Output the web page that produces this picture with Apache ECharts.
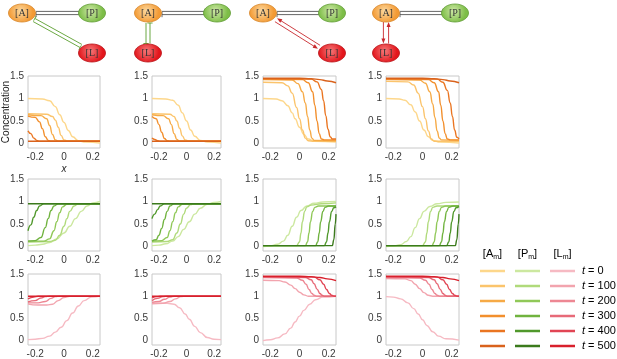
<!DOCTYPE html>
<html>
<head>
<meta charset="utf-8">
<script src="https://cdn.jsdelivr.net/npm/echarts@6/dist/echarts.min.js"></script>
<style>
html,body{margin:0;padding:0;background:#fff}
#main{width:617px;height:359px}
</style>
</head>
<body>
<div id="main"></div>
<script>
// time points (one curve per time in every panel)
var times = ['0', '100', '200', '300', '400', '500'];
var xTicks = [-0.2, 0, 0.2];
var yTicks = [0, 0.5, 1, 1.5];

// [A_m] profiles, one array per column, curves t=0..500
var A_col1 = [
  [[-0.25,1.0],[-0.15,0.99],[-0.1,0.95],[-0.06,0.82],[-0.03,0.64],[0,0.47],[0.03,0.29],[0.06,0.15],[0.1,0.06],[0.15,0.03],[0.25,0.01]],
  [[-0.25,0.66],[-0.12,0.65],[-0.08,0.6],[-0.06,0.52],[-0.04,0.36],[-0.02,0.18],[0,0.08],[0.03,0.05],[0.25,0.05]],
  [[-0.25,0.64],[-0.16,0.62],[-0.12,0.55],[-0.1,0.4],[-0.08,0.2],[-0.06,0.08],[-0.04,0.05],[0.25,0.05]],
  [[-0.25,0.61],[-0.2,0.58],[-0.17,0.48],[-0.15,0.33],[-0.13,0.15],[-0.11,0.07],[-0.09,0.05],[0.25,0.05]],
  [[-0.25,0.28],[-0.23,0.22],[-0.21,0.12],[-0.19,0.07],[-0.17,0.05],[0.25,0.05]],
  [[-0.25,0.05],[0.25,0.05]]
];
var A_col2 = [
  [[-0.25,1.0],[-0.15,0.99],[-0.1,0.96],[-0.06,0.85],[-0.03,0.68],[0,0.5],[0.03,0.3],[0.06,0.16],[0.1,0.07],[0.15,0.03],[0.25,0.01]],
  [[-0.25,0.66],[-0.12,0.65],[-0.09,0.6],[-0.07,0.5],[-0.05,0.34],[-0.03,0.17],[-0.01,0.08],[0.02,0.05],[0.25,0.05]],
  [[-0.25,0.64],[-0.17,0.62],[-0.13,0.55],[-0.11,0.42],[-0.09,0.22],[-0.07,0.09],[-0.05,0.05],[0.25,0.05]],
  [[-0.25,0.6],[-0.22,0.55],[-0.2,0.42],[-0.18,0.25],[-0.16,0.11],[-0.14,0.06],[-0.12,0.05],[0.25,0.05]],
  [[-0.25,0.12],[-0.23,0.09],[-0.21,0.06],[-0.19,0.05],[0.25,0.05]],
  [[-0.25,0.05],[0.25,0.05]]
];
var A_col3 = [
  [[-0.25,1.0],[-0.16,0.99],[-0.12,0.95],[-0.08,0.84],[-0.05,0.68],[-0.03,0.55],[0,0.36],[0.03,0.2],[0.06,0.1],[0.1,0.05],[0.25,0.03]],
  [[-0.25,1.36],[-0.12,1.35],[-0.08,1.28],[-0.05,1.12],[-0.02,0.8],[0,0.55],[0.02,0.3],[0.04,0.12],[0.06,0.06],[0.1,0.05],[0.25,0.05]],
  [[-0.25,1.42],[-0.05,1.41],[-0.01,1.33],[0.02,1.15],[0.04,0.9],[0.055,0.6],[0.07,0.3],[0.085,0.12],[0.1,0.07],[0.25,0.06]],
  [[-0.25,1.43],[0.02,1.42],[0.06,1.35],[0.09,1.15],[0.105,0.85],[0.12,0.5],[0.135,0.22],[0.15,0.1],[0.17,0.08],[0.25,0.08]],
  [[-0.25,1.44],[0.08,1.43],[0.12,1.37],[0.15,1.2],[0.165,0.95],[0.18,0.62],[0.195,0.32],[0.21,0.15],[0.225,0.1],[0.25,0.1]],
  [[-0.25,1.45],[0,1.45],[0.08,1.44],[0.14,1.42],[0.19,1.39],[0.25,1.35]]
];
var A_col4 = [
  [[-0.25,1.0],[-0.16,0.99],[-0.12,0.96],[-0.08,0.86],[-0.05,0.7],[-0.02,0.5],[0.01,0.3],[0.04,0.15],[0.07,0.07],[0.12,0.03],[0.25,0.01]],
  [[-0.25,1.38],[-0.1,1.37],[-0.06,1.3],[-0.03,1.12],[0,0.82],[0.02,0.55],[0.04,0.28],[0.06,0.1],[0.08,0.05],[0.25,0.05]],
  [[-0.25,1.42],[-0.02,1.41],[0.02,1.34],[0.05,1.15],[0.07,0.88],[0.085,0.58],[0.1,0.28],[0.115,0.12],[0.13,0.08],[0.25,0.07]],
  [[-0.25,1.43],[0.04,1.42],[0.08,1.35],[0.11,1.15],[0.125,0.85],[0.14,0.5],[0.155,0.22],[0.17,0.1],[0.19,0.08],[0.25,0.08]],
  [[-0.25,1.44],[0.1,1.43],[0.14,1.36],[0.17,1.18],[0.19,0.9],[0.205,0.6],[0.22,0.3],[0.235,0.14],[0.25,0.1]],
  [[-0.25,1.45],[0,1.45],[0.08,1.44],[0.14,1.42],[0.19,1.39],[0.25,1.35]]
];

// [P_m] profiles
var P_col1 = [
  [[-0.25,0.02],[-0.2,0.03],[-0.15,0.05],[-0.1,0.09],[-0.05,0.17],[0,0.3],[0.04,0.45],[0.08,0.62],[0.12,0.78],[0.16,0.9],[0.2,0.97],[0.25,1.0]],
  [[-0.25,0.1],[-0.1,0.11],[-0.06,0.14],[-0.03,0.25],[0,0.45],[0.02,0.62],[0.04,0.78],[0.07,0.9],[0.1,0.95],[0.25,0.95]],
  [[-0.25,0.12],[-0.14,0.12],[-0.1,0.17],[-0.07,0.35],[-0.05,0.55],[-0.03,0.75],[-0.01,0.88],[0.02,0.94],[0.05,0.95],[0.25,0.95]],
  [[-0.25,0.12],[-0.2,0.13],[-0.16,0.2],[-0.13,0.42],[-0.11,0.62],[-0.09,0.8],[-0.07,0.9],[-0.04,0.95],[0.25,0.95]],
  [[-0.25,0.35],[-0.23,0.48],[-0.21,0.65],[-0.19,0.8],[-0.17,0.9],[-0.14,0.95],[0.25,0.95]],
  [[-0.25,0.95],[0.25,0.95]]
];
var P_col2 = [
  [[-0.25,0.02],[-0.2,0.03],[-0.15,0.06],[-0.1,0.12],[-0.06,0.22],[-0.02,0.38],[0.02,0.55],[0.06,0.72],[0.1,0.85],[0.15,0.94],[0.2,0.98],[0.25,1.0]],
  [[-0.25,0.1],[-0.14,0.11],[-0.1,0.15],[-0.07,0.3],[-0.045,0.5],[-0.02,0.72],[0,0.85],[0.03,0.93],[0.06,0.95],[0.25,0.95]],
  [[-0.25,0.12],[-0.18,0.13],[-0.14,0.2],[-0.12,0.35],[-0.1,0.55],[-0.08,0.75],[-0.06,0.88],[-0.03,0.94],[0.25,0.95]],
  [[-0.25,0.12],[-0.22,0.15],[-0.2,0.25],[-0.18,0.4],[-0.16,0.6],[-0.14,0.78],[-0.12,0.9],[-0.09,0.95],[0.25,0.95]],
  [[-0.25,0.62],[-0.23,0.72],[-0.21,0.82],[-0.19,0.9],[-0.16,0.95],[0.25,0.95]],
  [[-0.25,0.95],[0.25,0.95]]
];
var P_col3 = [
  [[-0.25,0.0],[-0.2,0.01],[-0.15,0.05],[-0.11,0.12],[-0.08,0.25],[-0.05,0.45],[-0.02,0.65],[0.01,0.8],[0.05,0.9],[0.1,0.96],[0.16,0.99],[0.25,1.0]],
  [[-0.25,0.02],[-0.02,0.02],[0,0.1],[0.01,0.3],[0.02,0.55],[0.035,0.78],[0.05,0.88],[0.08,0.92],[0.15,0.95],[0.25,0.97]],
  [[-0.25,0.02],[0.04,0.02],[0.055,0.1],[0.065,0.3],[0.075,0.55],[0.09,0.78],[0.105,0.87],[0.13,0.9],[0.25,0.9]],
  [[-0.25,0.02],[0.11,0.02],[0.125,0.1],[0.135,0.3],[0.145,0.55],[0.16,0.78],[0.175,0.87],[0.2,0.9],[0.25,0.9]],
  [[-0.25,0.02],[0.17,0.02],[0.185,0.1],[0.195,0.3],[0.205,0.55],[0.22,0.78],[0.235,0.86],[0.25,0.88]],
  [[-0.25,0.02],[0.225,0.02],[0.235,0.15],[0.245,0.5],[0.25,0.72]]
];
var P_col4 = [
  [[-0.25,0.0],[-0.2,0.01],[-0.15,0.04],[-0.11,0.11],[-0.08,0.22],[-0.05,0.42],[-0.02,0.62],[0.01,0.78],[0.05,0.89],[0.1,0.95],[0.16,0.98],[0.25,0.99]],
  [[-0.25,0.02],[0,0.02],[0.02,0.1],[0.03,0.3],[0.04,0.55],[0.055,0.78],[0.07,0.87],[0.1,0.9],[0.25,0.9]],
  [[-0.25,0.02],[0.065,0.02],[0.08,0.1],[0.09,0.3],[0.1,0.55],[0.115,0.78],[0.13,0.87],[0.16,0.9],[0.25,0.9]],
  [[-0.25,0.02],[0.115,0.02],[0.13,0.1],[0.14,0.3],[0.15,0.55],[0.165,0.78],[0.18,0.87],[0.21,0.9],[0.25,0.9]],
  [[-0.25,0.02],[0.165,0.02],[0.18,0.1],[0.19,0.3],[0.2,0.55],[0.215,0.78],[0.23,0.86],[0.25,0.89]],
  [[-0.25,0.02],[0.225,0.02],[0.235,0.15],[0.245,0.5],[0.25,0.72]]
];

// [L_m] profiles
var L_col1 = [
  [[-0.25,0.02],[-0.2,0.03],[-0.15,0.05],[-0.1,0.1],[-0.06,0.19],[-0.02,0.3],[0.02,0.45],[0.06,0.62],[0.1,0.78],[0.14,0.9],[0.19,0.98],[0.25,1.0]],
  [[-0.25,0.82],[-0.18,0.8],[-0.12,0.8],[-0.08,0.82],[-0.04,0.9],[0,0.97],[0.04,1.0],[0.25,1.0]],
  [[-0.25,0.85],[-0.18,0.85],[-0.13,0.88],[-0.09,0.95],[-0.06,0.99],[-0.03,1.0],[0.25,1.0]],
  [[-0.25,0.87],[-0.2,0.9],[-0.16,0.96],[-0.13,0.99],[-0.1,1.0],[0.25,1.0]],
  [[-0.25,0.94],[-0.21,0.98],[-0.18,1.0],[0.25,1.0]],
  [[-0.25,1.0],[0.25,1.0]]
];
var L_col2 = [
  [[-0.25,0.84],[-0.14,0.84],[-0.09,0.82],[-0.05,0.74],[-0.01,0.6],[0.02,0.48],[0.06,0.32],[0.1,0.18],[0.15,0.07],[0.2,0.03],[0.25,0.02]],
  [[-0.25,0.83],[-0.17,0.84],[-0.12,0.88],[-0.08,0.94],[-0.04,0.99],[-0.01,1.0],[0.25,1.0]],
  [[-0.25,0.86],[-0.2,0.88],[-0.16,0.93],[-0.12,0.98],[-0.09,1.0],[0.25,1.0]],
  [[-0.25,0.9],[-0.21,0.95],[-0.17,0.99],[-0.14,1.0],[0.25,1.0]],
  [[-0.25,0.96],[-0.21,0.99],[-0.19,1.0],[0.25,1.0]],
  [[-0.25,1.0],[0.25,1.0]]
];
var L_col3 = [
  [[-0.25,0.0],[-0.2,0.02],[-0.15,0.06],[-0.1,0.15],[-0.06,0.28],[-0.03,0.42],[0,0.55],[0.03,0.68],[0.07,0.82],[0.11,0.92],[0.16,0.98],[0.25,1.0]],
  [[-0.25,1.36],[-0.14,1.35],[-0.1,1.32],[-0.06,1.25],[-0.03,1.17],[0,1.09],[0.03,1.03],[0.06,1.0],[0.25,1.0]],
  [[-0.25,1.42],[-0.02,1.41],[0.02,1.36],[0.045,1.27],[0.065,1.15],[0.085,1.06],[0.1,1.02],[0.12,1.0],[0.25,1.0]],
  [[-0.25,1.43],[0.04,1.42],[0.08,1.37],[0.1,1.28],[0.12,1.16],[0.14,1.06],[0.155,1.02],[0.17,1.0],[0.25,1.0]],
  [[-0.25,1.44],[0.1,1.43],[0.14,1.37],[0.165,1.27],[0.185,1.15],[0.205,1.06],[0.22,1.02],[0.24,1.0],[0.25,1.0]],
  [[-0.25,1.45],[0,1.45],[0.08,1.44],[0.14,1.42],[0.19,1.39],[0.25,1.35]]
];
var L_col4 = [
  [[-0.25,0.99],[-0.2,0.98],[-0.15,0.94],[-0.1,0.85],[-0.06,0.72],[-0.03,0.6],[0,0.47],[0.03,0.34],[0.07,0.2],[0.11,0.1],[0.16,0.04],[0.25,0.01]],
  [[-0.25,1.4],[-0.12,1.39],[-0.08,1.35],[-0.05,1.27],[-0.02,1.17],[0.01,1.08],[0.04,1.02],[0.07,1.0],[0.25,1.0]],
  [[-0.25,1.42],[-0.02,1.41],[0.02,1.36],[0.045,1.27],[0.065,1.15],[0.085,1.06],[0.1,1.02],[0.12,1.0],[0.25,1.0]],
  [[-0.25,1.43],[0.04,1.42],[0.08,1.37],[0.1,1.28],[0.12,1.16],[0.14,1.06],[0.155,1.02],[0.17,1.0],[0.25,1.0]],
  [[-0.25,1.44],[0.1,1.43],[0.14,1.37],[0.165,1.27],[0.185,1.15],[0.205,1.06],[0.22,1.02],[0.24,1.0],[0.25,1.0]],
  [[-0.25,1.45],[0,1.45],[0.08,1.44],[0.14,1.42],[0.19,1.39],[0.25,1.35]]
];

var aColors = ['#fdd78b', '#fbc46c', '#f6aa46', '#f28f2d', '#ea7521', '#d9621c'];
var pColors = ['#cce8a0', '#b0da7b', '#90c858', '#70b33f', '#50982b', '#3b7a1c'];
var lColors = ['#f6bac3', '#f2a4ae', '#ed8793', '#e76a78', '#e14554', '#d8202c'];

var myChart = echarts.init(document.getElementById('main'));

// 面板位置
var colLeft = [28, 152, 263, 386];
var colWidth = [72, 69, 73, 73];
var rowTop = [76, 179, 274];
var rowHeight = 72;
var font = '"Liberation Sans", Arial, sans-serif';

var rows = [
  [A_col1, A_col2, A_col3, A_col4],
  [P_col1, P_col2, P_col3, P_col4],
  [L_col1, L_col2, L_col3, L_col4]
];
var rowColors = [aColors, pColors, lColors];

var grids = [], xAxes = [], yAxes = [], series = [];
rows.forEach(function (panels, r) {
  panels.forEach(function (curves, c) {
    var i = grids.length;
    grids.push({
      left: colLeft[c], top: rowTop[r], width: colWidth[c], height: rowHeight,
      show: true, borderColor: '#c8c8c8', borderWidth: 1, backgroundColor: '#fff'
    });
    xAxes.push({
      gridIndex: i, type: 'value', min: -0.25, max: 0.25,
      axisLine: { show: false }, axisTick: { show: false }, splitLine: { show: false },
      axisLabel: { customValues: xTicks, fontSize: 10, color: '#383838', margin: 4, fontFamily: font }
    });
    yAxes.push({
      gridIndex: i, type: 'value', min: -0.1, max: 1.5,
      axisLine: { show: false }, axisTick: { show: false }, splitLine: { show: false },
      axisLabel: { customValues: yTicks, fontSize: 10, color: '#383838', margin: 4, fontFamily: font }
    });
    curves.forEach(function (pts, k) {
      series.push({
        type: 'line', name: 't = ' + times[k], xAxisIndex: i, yAxisIndex: i,
        data: pts, showSymbol: false, smooth: 0.5, smoothMonotone: 'x',
        lineStyle: { width: 1.4, color: rowColors[r][k] },
        itemStyle: { color: rowColors[r][k] },
        z: 2 + k
      });
    });
  });
});

// 网络示意图
var els = [];
function node(cx, cy, label, c0, c1, stroke) {
  els.push({
    type: 'ellipse', shape: { cx: cx, cy: cy, rx: 13.5, ry: 9 },
    style: {
      fill: new echarts.graphic.RadialGradient(0.45, 0.4, 0.65, [
        { offset: 0, color: c0 }, { offset: 1, color: c1 }
      ]),
      stroke: stroke, lineWidth: 0.8
    }, z: 10
  });
  els.push({
    type: 'text', x: cx, y: cy + 0.5, z: 11,
    style: { text: label, fill: '#333', font: '10px "Liberation Serif", serif',
      align: 'center', verticalAlign: 'middle', textAlign: 'center', textVerticalAlign: 'middle' }
  });
}
function seg(x1, y1, x2, y2, color) {
  els.push({ type: 'line', shape: { x1: x1, y1: y1, x2: x2, y2: y2 },
    style: { stroke: color, lineWidth: 0.9 }, z: 9 });
}
// line ending with a bar (inhibition) or an arrowhead (activation)
function link(x1, y1, x2, y2, color, kind) {
  var dx = x2 - x1, dy = y2 - y1, len = Math.sqrt(dx * dx + dy * dy);
  var ux = dx / len, uy = dy / len, nx = -uy, ny = ux;
  if (kind === 'bar') {
    seg(x1, y1, x2, y2, color);
    seg(x2 - nx * 2.6, y2 - ny * 2.6, x2 + nx * 2.6, y2 + ny * 2.6, color);
  } else {
    seg(x1, y1, x2 - ux * 4, y2 - uy * 4, color);
    els.push({ type: 'polygon', z: 9, shape: { points: [
      [x2, y2], [x2 - ux * 5 + nx * 2, y2 - uy * 5 + ny * 2], [x2 - ux * 5 - nx * 2, y2 - uy * 5 - ny * 2]
    ] }, style: { fill: color } });
  }
}
function pair(ax, ay, bx, by, off, color, kind) {
  var dx = bx - ax, dy = by - ay, len = Math.sqrt(dx * dx + dy * dy);
  var nx = -dy / len * off, ny = dx / len * off;
  link(ax + nx, ay + ny, bx + nx, by + ny, color, kind);
  link(bx - nx, by - ny, ax - nx, ay - ny, color, kind);
}
var gray = '#555', green = '#5a9e2e', red = '#c8282c';
var nodeY = 13, lowY = 53;
var aX = [22, 148, 263, 386];
var pX = [92, 217, 332, 455];
aX.forEach(function (ax, c) {
  pair(ax + 14, nodeY, pX[c] - 12, nodeY, -1.6, gray, 'bar');
});
pair(34, 20, 81, 46, 1.8, green, 'bar');
pair(148, 23, 148, 43.5, 2, green, 'bar');
pair(276, 20, 319, 47, 2, red, 'arrow');
pair(386, 22, 386, 43.5, 2.6, red, 'arrow');
var lX = [92, 148, 332, 386];
aX.forEach(function (x) { node(x, nodeY, '[A]', '#fcd9a0', '#f39a34', '#d7862a'); });
pX.forEach(function (x) { node(x, nodeY, '[P]', '#cfe9a8', '#7dbd47', '#5f9c33'); });
lX.forEach(function (x) { node(x, lowY, '[L]', '#f47a7a', '#e3161c', '#b81216'); });

// 坐标轴标题
els.push({ type: 'text', x: 6, y: 112, rotation: Math.PI / 2,
  style: { text: 'Concentration', fill: '#222', font: '10px ' + font,
    align: 'center', verticalAlign: 'middle', textAlign: 'center', textVerticalAlign: 'middle' } });
els.push({ type: 'text', x: 64, y: 169,
  style: { text: 'x', fill: '#222', font: 'italic 10px ' + font,
    align: 'center', verticalAlign: 'middle', textAlign: 'center', textVerticalAlign: 'middle' } });

// 图例
var legHead = ['A', 'P', 'L'];
var legX = [480, 515, 550];
var legColors = [aColors, pColors, lColors];
var rich = {
  n: { fontSize: 11, fontFamily: font, color: '#222', lineHeight: 14 },
  s: { fontSize: 7, fontFamily: font, color: '#222', lineHeight: 14, padding: [7, 0, 0, 0] },
  i: { fontSize: 11, fontFamily: font, color: '#222', fontStyle: 'italic' },
  t: { fontSize: 11, fontFamily: font, color: '#222' }
};
legHead.forEach(function (h, j) {
  els.push({ type: 'text', x: legX[j] + 12.5, y: 254,
    style: { text: '{n|[' + h + '}{s|m}{n|]}', rich: rich,
      align: 'center', verticalAlign: 'middle', textAlign: 'center', textVerticalAlign: 'middle' } });
  times.forEach(function (t, k) {
    var y = 271 + k * 15;
    els.push({ type: 'line', shape: { x1: legX[j], y1: y, x2: legX[j] + 25, y2: y },
      style: { stroke: legColors[j][k], lineWidth: 2.5 } });
  });
});
times.forEach(function (t, k) {
  els.push({ type: 'text', x: 582, y: 271 + k * 15,
    style: { text: '{i|t}{t| = ' + t + '}', rich: rich,
      align: 'left', verticalAlign: 'middle', textAlign: 'left', textVerticalAlign: 'middle' } });
});

var option = {
  animation: false,
  backgroundColor: '#fff',
  grid: grids,
  xAxis: xAxes,
  yAxis: yAxes,
  series: series,
  graphic: { elements: els }
};
myChart.setOption(option);
window.addEventListener('resize', function () {
  myChart.resize();
});
</script>
</body>
</html>
